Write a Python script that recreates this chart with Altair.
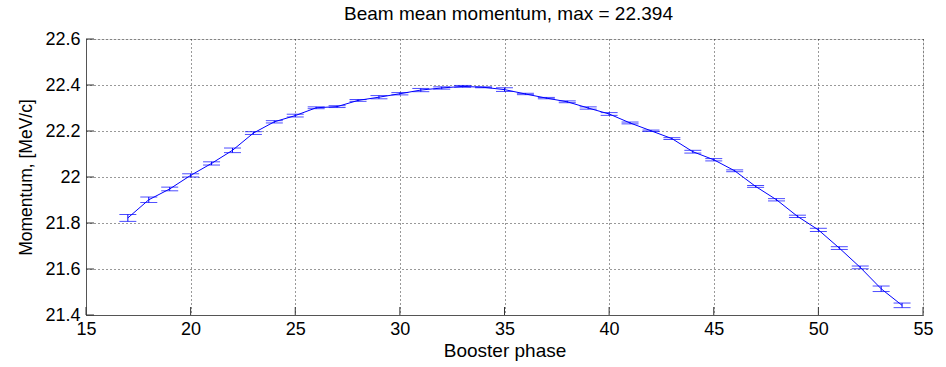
import altair as alt
import pandas as pd

phase = list(range(17, 55))
momentum = [21.822, 21.901, 21.948, 22.007, 22.059, 22.116, 22.191, 22.240, 22.267, 22.301,
            22.306, 22.333, 22.347, 22.362, 22.378, 22.387, 22.394, 22.390, 22.380, 22.361,
            22.343, 22.327, 22.300, 22.274, 22.235, 22.201, 22.167, 22.110, 22.075, 22.027,
            21.959, 21.901, 21.829, 21.770, 21.691, 21.607, 21.514, 21.442]
err = [0.015, 0.012, 0.008, 0.007, 0.007, 0.010, 0.006, 0.005, 0.006, 0.004,
       0.004, 0.004, 0.007, 0.005, 0.007, 0.005, 0.004, 0.002, 0.008, 0.003,
       0.003, 0.004, 0.005, 0.006, 0.004, 0.003, 0.004, 0.006, 0.005, 0.004,
       0.004, 0.005, 0.005, 0.007, 0.006, 0.006, 0.012, 0.010]
x_ticks = [15, 20, 25, 30, 35, 40, 45, 50, 55]
y_ticks = [21.4, 21.6, 21.8, 22.0, 22.2, 22.4, 22.6]

df = pd.DataFrame({"x": phase, "y": momentum, "e": err})
df["lo"] = df["y"] - df["e"]
df["hi"] = df["y"] + df["e"]

W, H = 837, 276
FONT = "Liberation Sans"
BLUE = "#0000ff"

xs = alt.Scale(domain=[15, 55], nice=False, zero=False)
ys = alt.Scale(domain=[21.4, 22.6], nice=False, zero=False)

xaxis = alt.Axis(values=x_ticks, grid=True, gridDash=[1, 3], gridColor="#000", gridOpacity=0.8,
                 ticks=False, domainColor="#555", labelFontSize=18, labelFont=FONT,
                 labelColor="#000", labelPadding=5, title="Booster phase", titleFont=FONT,
                 titleFontSize=19, titleFontWeight="normal", titleColor="#000", titlePadding=3,
                 labelFlush=False)
yaxis = alt.Axis(values=y_ticks, grid=True, gridDash=[1, 3], gridColor="#000", gridOpacity=0.8,
                 ticks=False, domainColor="#555", labelFontSize=18, labelFont=FONT,
                 labelColor="#000", labelPadding=6, format="~g", title="Momentum, [MeV/c]",
                 titleFont=FONT, titleFontSize=17.5, titleFontWeight="normal", titleColor="#000",
                 titlePadding=9, labelFlush=False)

base = alt.Chart(df)
line = base.mark_line(color=BLUE, strokeWidth=1).encode(
    x=alt.X("x:Q", scale=xs, axis=xaxis), y=alt.Y("y:Q", scale=ys, axis=yaxis))
bars = base.mark_rule(color=BLUE, strokeWidth=1).encode(
    x=alt.X("x:Q", scale=xs), y=alt.Y("lo:Q", scale=ys), y2="hi:Q")
cap_lo = base.mark_tick(color=BLUE, orient="horizontal", size=17, thickness=1).encode(
    x=alt.X("x:Q", scale=xs), y=alt.Y("lo:Q", scale=ys))
cap_hi = base.mark_tick(color=BLUE, orient="horizontal", size=17, thickness=1).encode(
    x=alt.X("x:Q", scale=xs), y=alt.Y("hi:Q", scale=ys))

xt = alt.Chart(pd.DataFrame({"t": x_ticks})).mark_rule(color="#333", strokeWidth=1).encode(
    x=alt.X("t:Q", scale=xs), y=alt.value(H), y2=alt.value(H - 8))
yt = alt.Chart(pd.DataFrame({"t": y_ticks})).mark_rule(color="#333", strokeWidth=1).encode(
    y=alt.Y("t:Q", scale=ys), x=alt.value(0), x2=alt.value(8))

chart = alt.layer(xt, yt, line, bars, cap_lo, cap_hi).properties(
    width=W, height=H,
    title=alt.TitleParams("Beam mean momentum, max = 22.394", font=FONT, fontSize=19,
                          fontWeight="normal", color="#000", offset=6, anchor="middle", dx=4),
    autosize=alt.AutoSizeParams(type="none"),
    padding={"left": 86, "top": 39, "right": 23, "bottom": 52},
).configure_view(stroke=None).configure(background="#ffffff")

chart.save("out.html", embed_options={"renderer": "svg", "actions": False})
